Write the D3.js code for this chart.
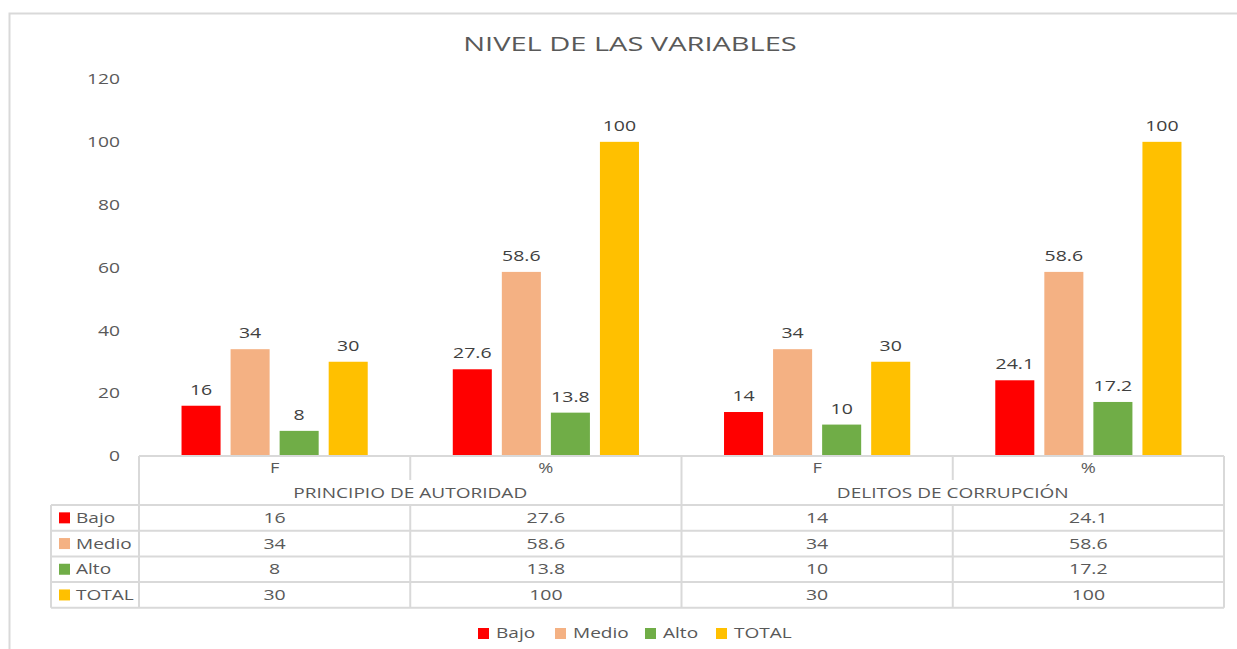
<!DOCTYPE html>
<html>
<head>
<meta charset="utf-8">
<script src="https://cdn.jsdelivr.net/npm/d3@7"></script>
<style>
  body { margin: 0; background: #fff; }
  text { font-family: "Open Sans", sans-serif; fill: #595959; }
</style>
</head>
<body>
<svg id="chart" width="1237" height="649"></svg>
<script>
// DATA
var title = "NIVEL DE LAS VARIABLES";
var groups = ["PRINCIPIO DE AUTORIDAD", "DELITOS DE CORRUPCIÓN"];
var columns = ["F", "%", "F", "%"];
var seriesNames = ["Bajo", "Medio", "Alto", "TOTAL"];
var bajo  = [16, 27.6, 14, 24.1];
var medio = [34, 58.6, 34, 58.6];
var alto  = [8, 13.8, 10, 17.2];
var total = [30, 100, 30, 100];
var yTicks = [0, 20, 40, 60, 80, 100, 120];

var seriesValues = [bajo, medio, alto, total];
var colors = ["#ff0000", "#f4b183", "#70ad47", "#ffc000"];
var lineColor = "#d9d9d9";

// SIZES
var plot = {left: 139, right: 1224, top: 79, bottom: 456};
var tableLeft = 51;
var rowH = 25.7;
var headerBottom = 505;

var svg = d3.select("#chart");

// the reference text is drawn wide, so widen glyphs a bit
function stretch(sel, k) {
  sel.each(function() {
    var w = this.getComputedTextLength();
    this.setAttribute("textLength", w * k);
    this.setAttribute("lengthAdjust", "spacingAndGlyphs");
  });
}

// chart border
svg.append("path")
    .attr("d", "M9.5,649V13.5H1237")
    .attr("fill", "none")
    .attr("stroke", lineColor)
    .attr("stroke-width", 2);

// title
svg.append("text")
    .attr("x", 630).attr("y", 51)
    .attr("text-anchor", "middle")
    .style("font-size", "20px")
    .text(title)
    .call(stretch, 1.45);

// scales
var x = d3.scaleBand().domain(d3.range(columns.length))
    .range([plot.left, plot.right]).paddingInner(0).paddingOuter(0);
var xs = d3.scaleBand().domain(seriesNames)
    .range([0, x.bandwidth()]).paddingInner(10 / 49).paddingOuter(0.867);
var y = d3.scaleLinear().domain([0, 120]).range([plot.bottom, plot.top]);

// y axis labels
var yAxis = svg.append("g")
    .attr("transform", "translate(129,0)")
    .call(d3.axisLeft(y).tickValues(yTicks).tickSize(0).tickPadding(9));
yAxis.select(".domain").remove();
yAxis.selectAll("text")
    .style("font-size", "15px")
    .style("font-family", "'Open Sans', sans-serif")
    .attr("fill", "#595959")
    .call(stretch, 1.28);

// bars
seriesNames.forEach(function(name, si) {
  var g = svg.append("g");
  g.selectAll("rect")
      .data(seriesValues[si])
    .enter().append("rect")
      .attr("x", function(d, i) { return x(i) + xs(name); })
      .attr("y", function(d) { return y(d); })
      .attr("width", xs.bandwidth())
      .attr("height", function(d) { return y(0) - y(d); })
      .attr("fill", colors[si]);
  g.selectAll("text")
      .data(seriesValues[si])
    .enter().append("text")
      .attr("x", function(d, i) { return x(i) + xs(name) + xs.bandwidth() / 2; })
      .attr("y", function(d) { return y(d) - 11; })
      .attr("text-anchor", "middle")
      .style("font-size", "15px")
      .style("fill", "#404040")
      .text(function(d) { return d; })
      .call(stretch, 1.3);
});

// DATA TABLE
var t = svg.append("g")
    .attr("stroke", lineColor)
    .attr("stroke-width", 2)
    .attr("fill", "none");
var rowTop = function(r) { return headerBottom + r * rowH; };
var tableBottom = rowTop(seriesNames.length);

// horizontal lines
t.append("line").attr("x1", plot.left).attr("x2", plot.right).attr("y1", plot.bottom).attr("y2", plot.bottom);
d3.range(seriesNames.length + 1).forEach(function(r) {
  t.append("line").attr("x1", tableLeft).attr("x2", plot.right)
      .attr("y1", rowTop(r)).attr("y2", rowTop(r));
});
// vertical lines
t.append("line").attr("x1", tableLeft).attr("x2", tableLeft).attr("y1", headerBottom).attr("y2", tableBottom);
d3.range(columns.length + 1).forEach(function(c) {
  var xx = c < columns.length ? x(c) : plot.right;
  var isGroupEdge = c % 2 === 0;
  t.append("line").attr("x1", xx).attr("x2", xx)
      .attr("y1", plot.bottom).attr("y2", isGroupEdge ? tableBottom : plot.bottom + 24);
  if (!isGroupEdge) {
    t.append("line").attr("x1", xx).attr("x2", xx)
        .attr("y1", headerBottom).attr("y2", tableBottom);
  }
});

// column labels
svg.selectAll(".colLabel")
    .data(columns)
  .enter().append("text")
    .attr("class", "colLabel")
    .attr("x", function(d, i) { return x(i) + x.bandwidth() / 2; })
    .attr("y", 473)
    .attr("text-anchor", "middle")
    .style("font-size", "14px")
    .text(function(d) { return d; })
    .call(stretch, 1.3);

svg.selectAll(".groupLabel")
    .data(groups)
  .enter().append("text")
    .attr("class", "groupLabel")
    .attr("x", function(d, i) { return x(i * 2) + x.bandwidth(); })
    .attr("y", 498)
    .attr("text-anchor", "middle")
    .style("font-size", "14px")
    .text(function(d) { return d; })
    .call(stretch, 1.36);

// rows
seriesNames.forEach(function(name, si) {
  var cy = rowTop(si) + rowH / 2;
  svg.append("rect")
      .attr("x", 59).attr("y", cy - 5.5)
      .attr("width", 11).attr("height", 11)
      .attr("fill", colors[si]);
  svg.append("text")
      .attr("x", 76).attr("y", cy + 5)
      .style("font-size", "15px")
      .text(name)
      .call(stretch, 1.27);
  svg.selectAll(".cell" + si)
      .data(seriesValues[si])
    .enter().append("text")
      .attr("x", function(d, i) { return x(i) + x.bandwidth() / 2; })
      .attr("y", cy + 5)
      .attr("text-anchor", "middle")
      .style("font-size", "15px")
      .text(function(d) { return d; })
      .call(stretch, 1.3);
});

// LEGEND
var legendX = [478, 555, 645, 716];
var legend = svg.append("g");
seriesNames.forEach(function(name, si) {
  legend.append("rect")
      .attr("x", legendX[si]).attr("y", 628)
      .attr("width", 11).attr("height", 11)
      .attr("fill", colors[si]);
  legend.append("text")
      .attr("x", legendX[si] + 18).attr("y", 638)
      .style("font-size", "15px")
      .text(name)
      .call(stretch, 1.27);
});
</script>
</body>
</html>
